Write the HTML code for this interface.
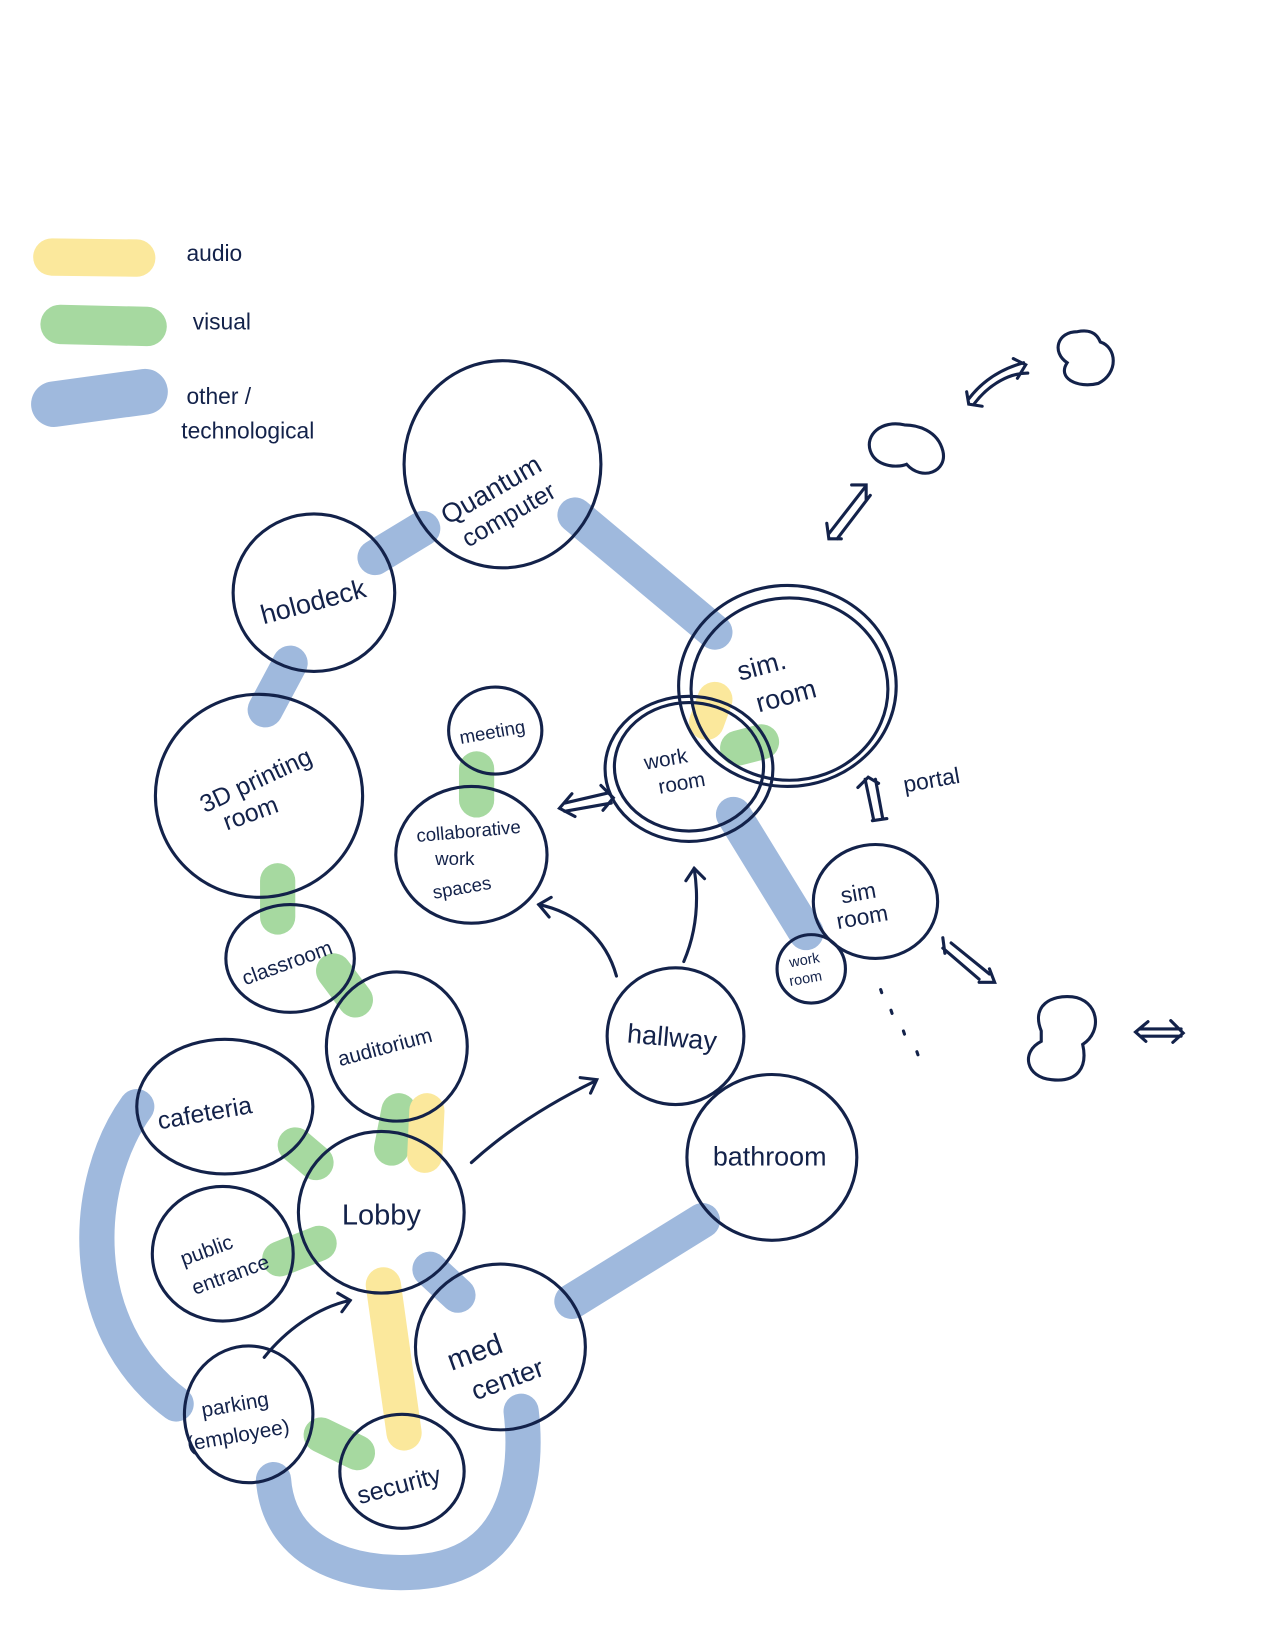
<!DOCTYPE html>
<html><head><meta charset="utf-8"><style>html,body{margin:0;padding:0;background:#fff}svg{display:block}</style></head>
<body>
<svg width="1264" height="1632" viewBox="0 0 1220 1575" xmlns="http://www.w3.org/2000/svg">
<g stroke-linecap="round" fill="none">
<path d="M50 248 L132 249" stroke="#fbe89c" stroke-width="36"/>
<path d="M58 313 L142 315" stroke="#a6d9a0" stroke-width="38"/>
<path d="M52 390 L140 378" stroke="#9fb9dd" stroke-width="44"/>
<g stroke="#9fb9dd" stroke-width="34">
<path d="M362 538 L408 510"/>
<path d="M555 497 L690 610"/>
<path d="M280 640 L256 685"/>
<path d="M708 786 L778 900"/>
<path d="M132 1068 C80 1140 70 1280 170 1355"/>
<path d="M415 1225 L442 1250"/>
<path d="M552 1256 L678 1178"/>
<path d="M264 1428 C270 1510 360 1525 420 1515 C500 1500 510 1420 503 1362"/>
</g>
<g stroke="#a6d9a0" stroke-width="34">
<path d="M268 850 L268 885"/>
<path d="M322 937 L343 965"/>
<path d="M385 1072 L378 1108"/>
<path d="M285 1105 L305 1122"/>
<path d="M270 1215 L308 1200"/>
<path d="M460 742 L460 772"/>
<path d="M712 722 L735 716"/>
<path d="M310 1385 L345 1402"/>
</g>
<g stroke="#fbe89c" stroke-width="34">
<path d="M370 1240 L390 1383"/>
<path d="M412 1072 L410 1115"/>
<path d="M690 675 L682 697"/>
</g>
</g>
<g fill="none" stroke="#13224a" stroke-width="3" stroke-linecap="round">
<ellipse cx="485" cy="448" rx="95" ry="100"/>
<ellipse cx="303" cy="572" rx="78" ry="76"/>
<ellipse cx="250" cy="768" rx="100" ry="98"/>
<ellipse cx="280" cy="925" rx="62" ry="52"/>
<ellipse cx="383" cy="1010" rx="68" ry="72"/>
<ellipse cx="217" cy="1068" rx="85" ry="65"/>
<ellipse cx="368" cy="1170" rx="80" ry="78"/>
<ellipse cx="215" cy="1210" rx="68" ry="65"/>
<ellipse cx="240" cy="1365" rx="62" ry="66"/>
<ellipse cx="388" cy="1420" rx="60" ry="55"/>
<ellipse cx="483" cy="1300" rx="82" ry="80"/>
<ellipse cx="745" cy="1117" rx="82" ry="80"/>
<ellipse cx="652" cy="1000" rx="66" ry="66"/>
<ellipse cx="478" cy="705" rx="45" ry="42"/>
<ellipse cx="455" cy="825" rx="73" ry="66"/>
<ellipse cx="762" cy="665" rx="95" ry="88"/>
<ellipse cx="760" cy="662" rx="105" ry="97"/>
<ellipse cx="665" cy="740" rx="72" ry="62"/>
<ellipse cx="665" cy="742" rx="81" ry="70"/>
<ellipse cx="845" cy="870" rx="60" ry="55"/>
<ellipse cx="783" cy="935" rx="33" ry="33"/>
<path d="M873 410 C850 405 835 420 840 435 C845 450 865 452 875 448 C890 465 915 455 910 435 C905 415 885 410 873 410Z"/>
<path d="M1040 320 C1020 320 1015 340 1030 350 C1020 365 1040 375 1060 370 C1080 360 1078 335 1062 330 C1058 320 1050 318 1040 320Z"/>
<path d="M1005 995 C995 970 1015 960 1035 962 C1060 965 1065 995 1045 1008 C1050 1030 1040 1045 1015 1042 C990 1040 985 1015 1005 1005Z"/>
<path d="M455 1122 C490 1090 530 1065 575 1043"/><path d="M560 1040 L576 1042 L570 1055"/>
<path d="M595 942 C585 905 555 880 520 873"/><path d="M532 866 L520 873 L530 885"/>
<path d="M660 928 C672 900 675 870 670 838"/><path d="M662 850 L670 838 L680 848"/>
<path d="M255 1310 C275 1285 305 1262 338 1255"/><path d="M326 1248 L338 1255 L330 1266"/>
<path d="M545 775 L588 765 M545 783 L590 775 M552 766 L540 780 L555 788 M580 758 L592 770 L582 782"/>
<path d="M835 752 L843 790 M845 752 L852 790 M828 760 L838 750 L848 756 M842 792 L856 790"/>
<path d="M800 515 L835 470 M808 520 L840 478 M798 505 L800 520 L812 520 M822 468 L836 468 L836 482"/>
<path d="M935 385 C950 365 970 355 988 350 M940 390 C955 370 975 360 992 360 M933 378 L935 390 L948 392 M978 346 L990 352 L982 365"/>
<path d="M910 915 L945 945 M918 910 L955 940 M910 905 L912 920 M945 948 L960 948 L955 935"/>
<path d="M1100 993 L1140 993 M1102 1000 L1140 1000 M1108 986 L1096 996 L1106 1005 M1130 985 L1142 997 L1132 1006"/>
<path d="M850 955 L851 958 M860 975 L861 978 M872 995 L873 998 M885 1015 L886 1018"/>
</g>
<g fill="#13224a" font-family="Liberation Sans, sans-serif">
<text x="180" y="252" font-size="22">audio</text>
<text x="186" y="318" font-size="22">visual</text>
<text x="180" y="390" font-size="22">other /</text>
<text x="175" y="423" font-size="22">technological</text>
<text x="420" y="478" font-size="26" transform="rotate(-30 480 470)">Quantum</text>
<text x="440" y="505" font-size="24" transform="rotate(-30 490 495)">computer</text>
<text x="250" y="590" font-size="26" transform="rotate(-15 300 580)">holodeck</text>
<text x="190" y="760" font-size="24" transform="rotate(-25 250 755)">3D printing</text>
<text x="215" y="790" font-size="24" transform="rotate(-20 250 785)">room</text>
<text x="232" y="935" font-size="20" transform="rotate(-20 280 930)">classroom</text>
<text x="325" y="1015" font-size="20" transform="rotate(-15 380 1010)">auditorium</text>
<text x="152" y="1080" font-size="24" transform="rotate(-10 210 1075)">cafeteria</text>
<text x="330" y="1182" font-size="28">Lobby</text>
<text x="175" y="1210" font-size="20" transform="rotate(-20 210 1210)">public</text>
<text x="185" y="1238" font-size="20" transform="rotate(-20 220 1235)">entrance</text>
<text x="195" y="1360" font-size="20" transform="rotate(-10 240 1360)">parking</text>
<text x="180" y="1390" font-size="20" transform="rotate(-10 240 1385)">(employee)</text>
<text x="343" y="1440" font-size="24" transform="rotate(-15 390 1430)">security</text>
<text x="430" y="1310" font-size="28" transform="rotate(-20 470 1300)">med</text>
<text x="455" y="1340" font-size="26" transform="rotate(-20 490 1335)">center</text>
<text x="688" y="1125" font-size="26">bathroom</text>
<text x="605" y="1010" font-size="26" transform="rotate(5 650 1005)">hallway</text>
<text x="443" y="712" font-size="18" transform="rotate(-10 478 705)">meeting</text>
<text x="402" y="808" font-size="18" transform="rotate(-5 455 805)">collaborative</text>
<text x="420" y="835" font-size="18">work</text>
<text x="418" y="862" font-size="18" transform="rotate(-10 450 860)">spaces</text>
<text x="712" y="650" font-size="26" transform="rotate(-15 740 645)">sim.</text>
<text x="730" y="680" font-size="26" transform="rotate(-15 760 675)">room</text>
<text x="622" y="738" font-size="20" transform="rotate(-10 650 735)">work</text>
<text x="636" y="762" font-size="20" transform="rotate(-10 660 760)">room</text>
<text x="872" y="760" font-size="22" transform="rotate(-10 900 755)">portal</text>
<text x="812" y="868" font-size="22" transform="rotate(-10 835 865)">sim</text>
<text x="808" y="892" font-size="22" transform="rotate(-10 835 890)">room</text>
<text x="762" y="930" font-size="14" transform="rotate(-10 783 928)">work</text>
<text x="762" y="948" font-size="14" transform="rotate(-10 783 946)">room</text>
</g>
</svg>
</body></html>
